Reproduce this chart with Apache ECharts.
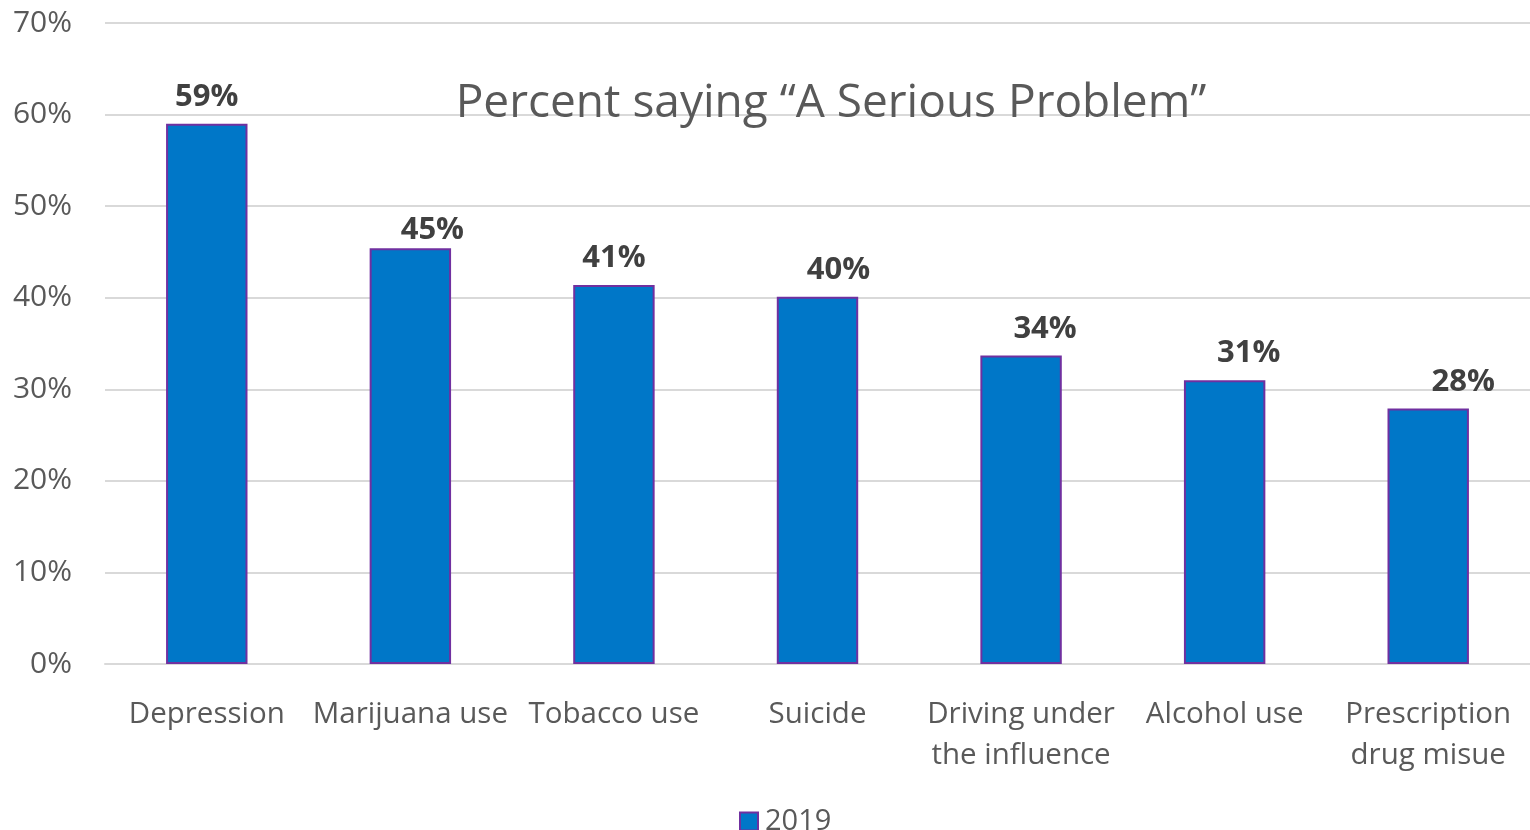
<!DOCTYPE html>
<html>
<head>
<meta charset="utf-8">
<script src="https://cdn.jsdelivr.net/npm/echarts@6/dist/echarts.min.js"></script>
<style>html,body{margin:0;padding:0;background:#fff;}#c{width:1530px;height:830px;}</style>
</head>
<body>
<div id="c"></div>
<script>
const categories = ['Depression', 'Marijuana use', 'Tobacco use', 'Suicide', 'Driving under\nthe influence', 'Alcohol use', 'Prescription\ndrug misue'];
const values2019 = [59, 45.4, 41.4, 40.1, 33.7, 31.0, 27.9];
const seriesName = '2019';
const yTicks = [0, 10, 20, 30, 40, 50, 60, 70];
const titleText = 'Percent saying \u201cA Serious Problem\u201d';
// label nudges (style only)
const labelNudge = [[0,0],[22,8],[0,0],[21,0],[24,0],[24,0],[35,0]];

const font = '"Open Sans", "Noto Sans", sans-serif';
const chart = echarts.init(document.getElementById('c'));
chart.setOption({
  animation: false,
  title: {
    text: titleText, left: 826, top: 76, textAlign: 'center',
    textStyle: { fontFamily: font, fontSize: 46, fontWeight: 'normal', color: '#595959' }
  },
  grid: { left: 105, right: 0, top: 23, bottom: 166, containLabel: false },
  legend: {
    top: 802, left: 734, icon: 'rect', itemWidth: 18, itemHeight: 18, itemGap: 6,
    textStyle: { fontFamily: font, fontSize: 29, color: '#595959', padding: [0, 0, 0, 2] },
    itemStyle: { borderColor: '#7030A0', borderWidth: 2 },
    data: [seriesName]
  },
  xAxis: {
    type: 'category', data: categories,
    axisLine: { show: true, lineStyle: { color: '#d9d9d9', width: 2 } },
    axisTick: { show: false },
    axisLabel: { fontFamily: font, fontSize: 29.5, color: '#595959', margin: 30, lineHeight: 41, interval: 0 }
  },
  yAxis: {
    type: 'value', min: yTicks[0], max: yTicks[yTicks.length - 1], interval: 10,
    axisLine: { show: false }, axisTick: { show: false },
    splitLine: { lineStyle: { color: '#d9d9d9', width: 2 } },
    axisLabel: { fontFamily: font, fontSize: 30, color: '#595959', margin: 33, formatter: v => v + '%' }
  },
  series: [{
    name: seriesName, type: 'bar', barWidth: '40%',
    itemStyle: { color: '#0077C8', borderColor: '#7030A0', borderWidth: 2 },
    data: values2019.map((v, i) => ({
      value: v,
      label: { offset: labelNudge[i] }
    })),
    label: {
      show: true, position: 'top', distance: 11,
      fontFamily: font, fontSize: 31, fontWeight: 'bold', color: '#404040',
      formatter: p => Math.round(p.value) + '%'
    }
  }]
});
</script>
</body>
</html>
